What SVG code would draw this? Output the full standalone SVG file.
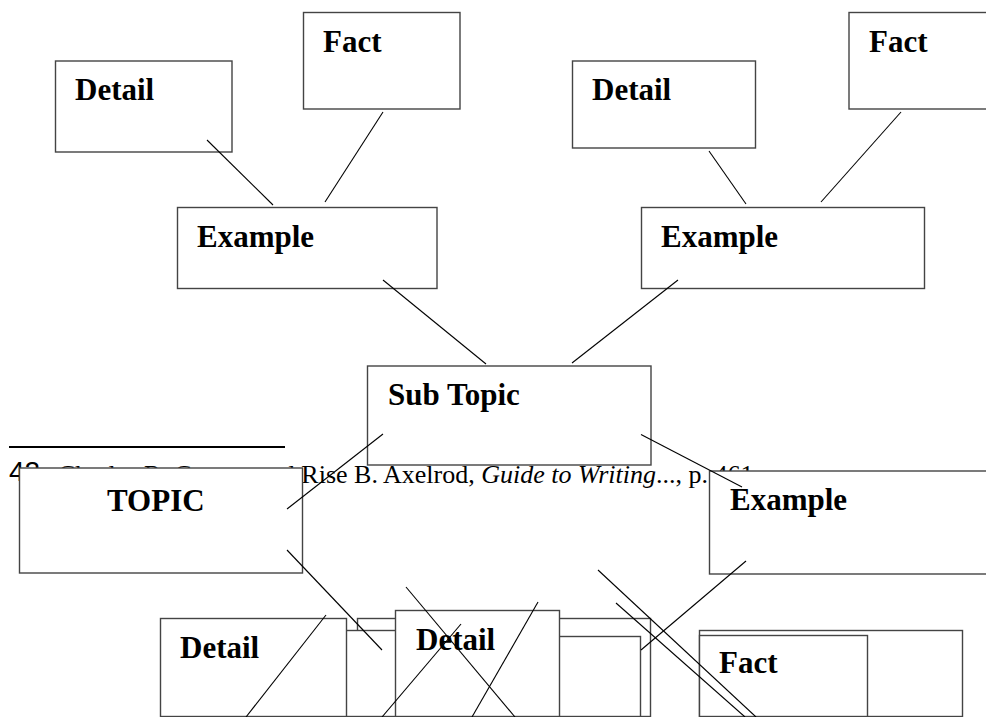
<svg xmlns="http://www.w3.org/2000/svg" width="986" height="717" viewBox="0 0 986 717">
<style>
.box{fill:#fff;stroke:#444;stroke-width:1.4}
.lbl{font-family:"Liberation Serif","Times New Roman",serif;font-weight:bold;font-size:31px;fill:#000}
.conn line{stroke:#000;stroke-width:1.1}
.fn{font-family:"Liberation Serif","Times New Roman",serif;font-size:26px;fill:#000}
</style>
<rect width="986" height="717" fill="#fff"/>
<g id="footnote">
<line x1="9" y1="447" x2="285" y2="447" stroke="#000" stroke-width="2.2"/>
<text x="9" y="481" font-family="Liberation Sans, Arial, sans-serif" font-size="28">42</text>
<text class="fn" x="58" y="483">Charles R. Cooper and Rise B. Axelrod, <tspan font-style="italic">Guide to Writing</tspan>..., p. 461</text>
</g>
<g id="detail-tl"><rect class="box" x="55.5" y="61" width="176.5" height="91"/><text class="lbl" x="75" y="100">Detail</text></g>
<g id="fact-tl"><rect class="box" x="303.5" y="12.5" width="156.5" height="96.5"/><text class="lbl" x="323" y="52">Fact</text></g>
<g id="example-tl"><rect class="box" x="177.5" y="207.5" width="259.5" height="81"/><text class="lbl" x="197" y="247">Example</text></g>
<g id="detail-tr"><rect class="box" x="572.5" y="61" width="183" height="87"/><text class="lbl" x="592" y="100">Detail</text></g>
<g id="fact-tr"><rect class="box" x="849" y="12.5" width="145" height="96.5"/><text class="lbl" x="869" y="52">Fact</text></g>
<g id="example-tr"><rect class="box" x="641.5" y="207.5" width="283" height="81"/><text class="lbl" x="661" y="247">Example</text></g>
<g id="subtopic"><rect class="box" x="367.5" y="366" width="283.5" height="99"/><text class="lbl" x="388" y="405">Sub Topic</text></g>
<g id="topic"><rect class="box" x="19.5" y="468" width="283" height="105"/><text class="lbl" x="107" y="511" font-size="35">TOPIC</text></g>
<g id="example-r"><rect class="box" x="709.5" y="471" width="290" height="103"/><text class="lbl" x="730" y="510">Example</text></g>
<g id="back-boxes">
<rect class="box" x="357.5" y="618.5" width="293" height="98"/>
<rect class="box" x="330" y="630.5" width="100" height="86"/>
<rect class="box" x="450" y="636.5" width="190.5" height="80"/>
</g>
<g id="detail-b1"><rect class="box" x="160.5" y="618.5" width="186" height="98"/><text class="lbl" x="180" y="658">Detail</text></g>
<g id="detail-b2"><rect class="box" x="395.5" y="610.5" width="164" height="106"/><text class="lbl" x="416" y="650">Detail</text></g>
<g id="fact-b">
<rect class="box" x="699.5" y="630.5" width="263" height="86"/>
<rect class="box" x="699.5" y="635.5" width="168" height="81"/>
<text class="lbl" x="719" y="673">Fact</text>
</g>
<g id="connectors" class="conn">
<line x1="207" y1="140" x2="273" y2="205"/>
<line x1="383" y1="112" x2="325" y2="202"/>
<line x1="709" y1="151" x2="746" y2="204"/>
<line x1="901" y1="112" x2="821" y2="202"/>
<line x1="383" y1="280" x2="486" y2="364"/>
<line x1="678" y1="280" x2="572" y2="363"/>
<line x1="383" y1="434" x2="287" y2="509"/>
<line x1="641" y1="434.5" x2="742" y2="487"/>
<line x1="287" y1="550" x2="382" y2="650"/>
<line x1="746" y1="561" x2="641" y2="650"/>
<line x1="326" y1="615" x2="246" y2="717"/>
<line x1="461" y1="624" x2="382" y2="717"/>
<line x1="406" y1="587" x2="515" y2="717"/>
<line x1="538" y1="602" x2="472" y2="717"/>
<line x1="598" y1="570" x2="756" y2="717"/>
<line x1="616" y1="603" x2="745" y2="717"/>
</g>
</svg>
